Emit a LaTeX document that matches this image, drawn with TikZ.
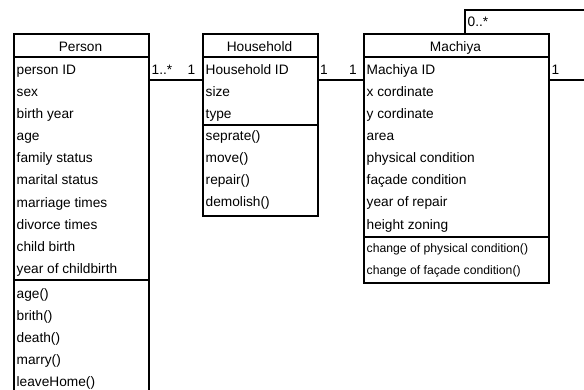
\documentclass[tikz,border=0pt]{standalone}
\usepackage{fontspec}
\setmainfont{Liberation Sans}
\begin{document}
\begin{tikzpicture}[x=1pt,y=-1pt,
  box/.style={draw, line width=1.6pt, anchor=north west, inner sep=0pt},
  sep/.style={line width=1.6pt},
  conn/.style={line width=1.6pt},
  ttl/.style={anchor=base, inner sep=0pt, font=\fontsize{13.7}{15}\selectfont},
  attr/.style={anchor=base west, inner sep=0pt, font=\fontsize{13.7}{15}\selectfont},
  small/.style={anchor=base west, inner sep=0pt, font=\fontsize{12.2}{14}\selectfont},
  mult/.style={anchor=base west, inner sep=0pt, font=\fontsize{13.7}{15}\selectfont}]
\useasboundingbox (0,0) rectangle (584,389);
\begin{scope}
\clip (0,0) rectangle (584,389);
% boxes
\node[box, minimum width=135pt, minimum height=372pt] (person) at (13,33) {};
\node[box, minimum width=115pt, minimum height=182pt] (household) at (202,33) {};
\node[box, minimum width=185pt, minimum height=249pt] (machiya) at (363,33) {};
% separators
\draw[sep] (person.west |- 0,57) -- (person.east |- 0,57);
\draw[sep] (person.west |- 0,280) -- (person.east |- 0,280);
\draw[sep] (household.west |- 0,57) -- (household.east |- 0,57);
\draw[sep] (household.west |- 0,125) -- (household.east |- 0,125);
\draw[sep] (machiya.west |- 0,57) -- (machiya.east |- 0,57);
\draw[sep] (machiya.west |- 0,237) -- (machiya.east |- 0,237);
% titles
\node[ttl] (tP) at (80.5,51.5) {Person};
\node[ttl] (tH) at (259.5,51.5) {Household};
\node[ttl] (tM) at (455.5,51.5) {Machiya};
% Person attributes
\node[attr] (p1) at (16.5,74.5) {person ID};
\node[attr] (p2) at (16.5,96.5) {sex};
\node[attr] (p3) at (16.5,118.5) {birth year};
\node[attr] (p4) at (16.5,140.5) {age};
\node[attr] (p5) at (16.5,162.5) {family status};
\node[attr] (p6) at (16.5,184.5) {marital status};
\node[attr] (p7) at (16.5,207) {marriage times};
\node[attr] (p8) at (16.5,229) {divorce times};
\node[attr] (p9) at (16.5,251.5) {child birth};
\node[attr] (p10) at (16.5,273.5) {year of childbirth};
\node[attr] (pm1) at (16.5,298.5) {age()};
\node[attr] (pm2) at (16.5,320.5) {brith()};
\node[attr] (pm3) at (16.5,342) {death()};
\node[attr] (pm4) at (16.5,364.5) {marry()};
\node[attr] (pm5) at (16.5,386.5) {leaveHome()};
% Household
\node[attr] (h1) at (205.5,74.5) {Household ID};
\node[attr] (h2) at (205.5,96.5) {size};
\node[attr] (h3) at (205.5,118.5) {type};
\node[attr] (hm1) at (205.5,140.5) {seprate()};
\node[attr] (hm2) at (205.5,162.5) {move()};
\node[attr] (hm3) at (205.5,184.5) {repair()};
\node[attr] (hm4) at (205.5,206.5) {demolish()};
% Machiya
\node[attr] (m1) at (366.5,74.5) {Machiya ID};
\node[attr] (m2) at (366.5,96.5) {x cordinate};
\node[attr] (m3) at (366.5,118.5) {y cordinate};
\node[attr] (m4) at (366.5,140.5) {area};
\node[attr] (m5) at (366.5,162.5) {physical condition};
\node[attr] (m6) at (366.5,184.5) {façade condition};
\node[attr] (m7) at (366.5,206.5) {year of repair};
\node[attr] (m8) at (366.5,229) {height zoning};
\node[small] (mm1) at (366.5,252) {change of physical condition()};
\node[small] (mm2) at (366.5,274) {change of façade condition()};
% connectors
\coordinate (r1) at (0,80);
\coordinate (loopR) at (594,10);
\coordinate (loopX) at (465,0);
\draw[conn] (person.east |- r1) -- (household.west |- r1);
\draw[conn] (household.east |- r1) -- (machiya.west |- r1);
\draw[conn] (machiya.east |- r1) -| (loopR) -| (machiya.north -| loopX);
% multiplicities
\node[mult] (a1) at (151.5,74.5) {1..*};
\node[mult] (a2) at (187.5,74.5) {1};
\node[mult] (a3) at (320,74.5) {1};
\node[mult] (a4) at (349,74.5) {1};
\node[mult] (a5) at (551.5,74.5) {1};
\node[mult] (a6) at (467.5,26) {0..*};
\end{scope}
\end{tikzpicture}
\end{document}
